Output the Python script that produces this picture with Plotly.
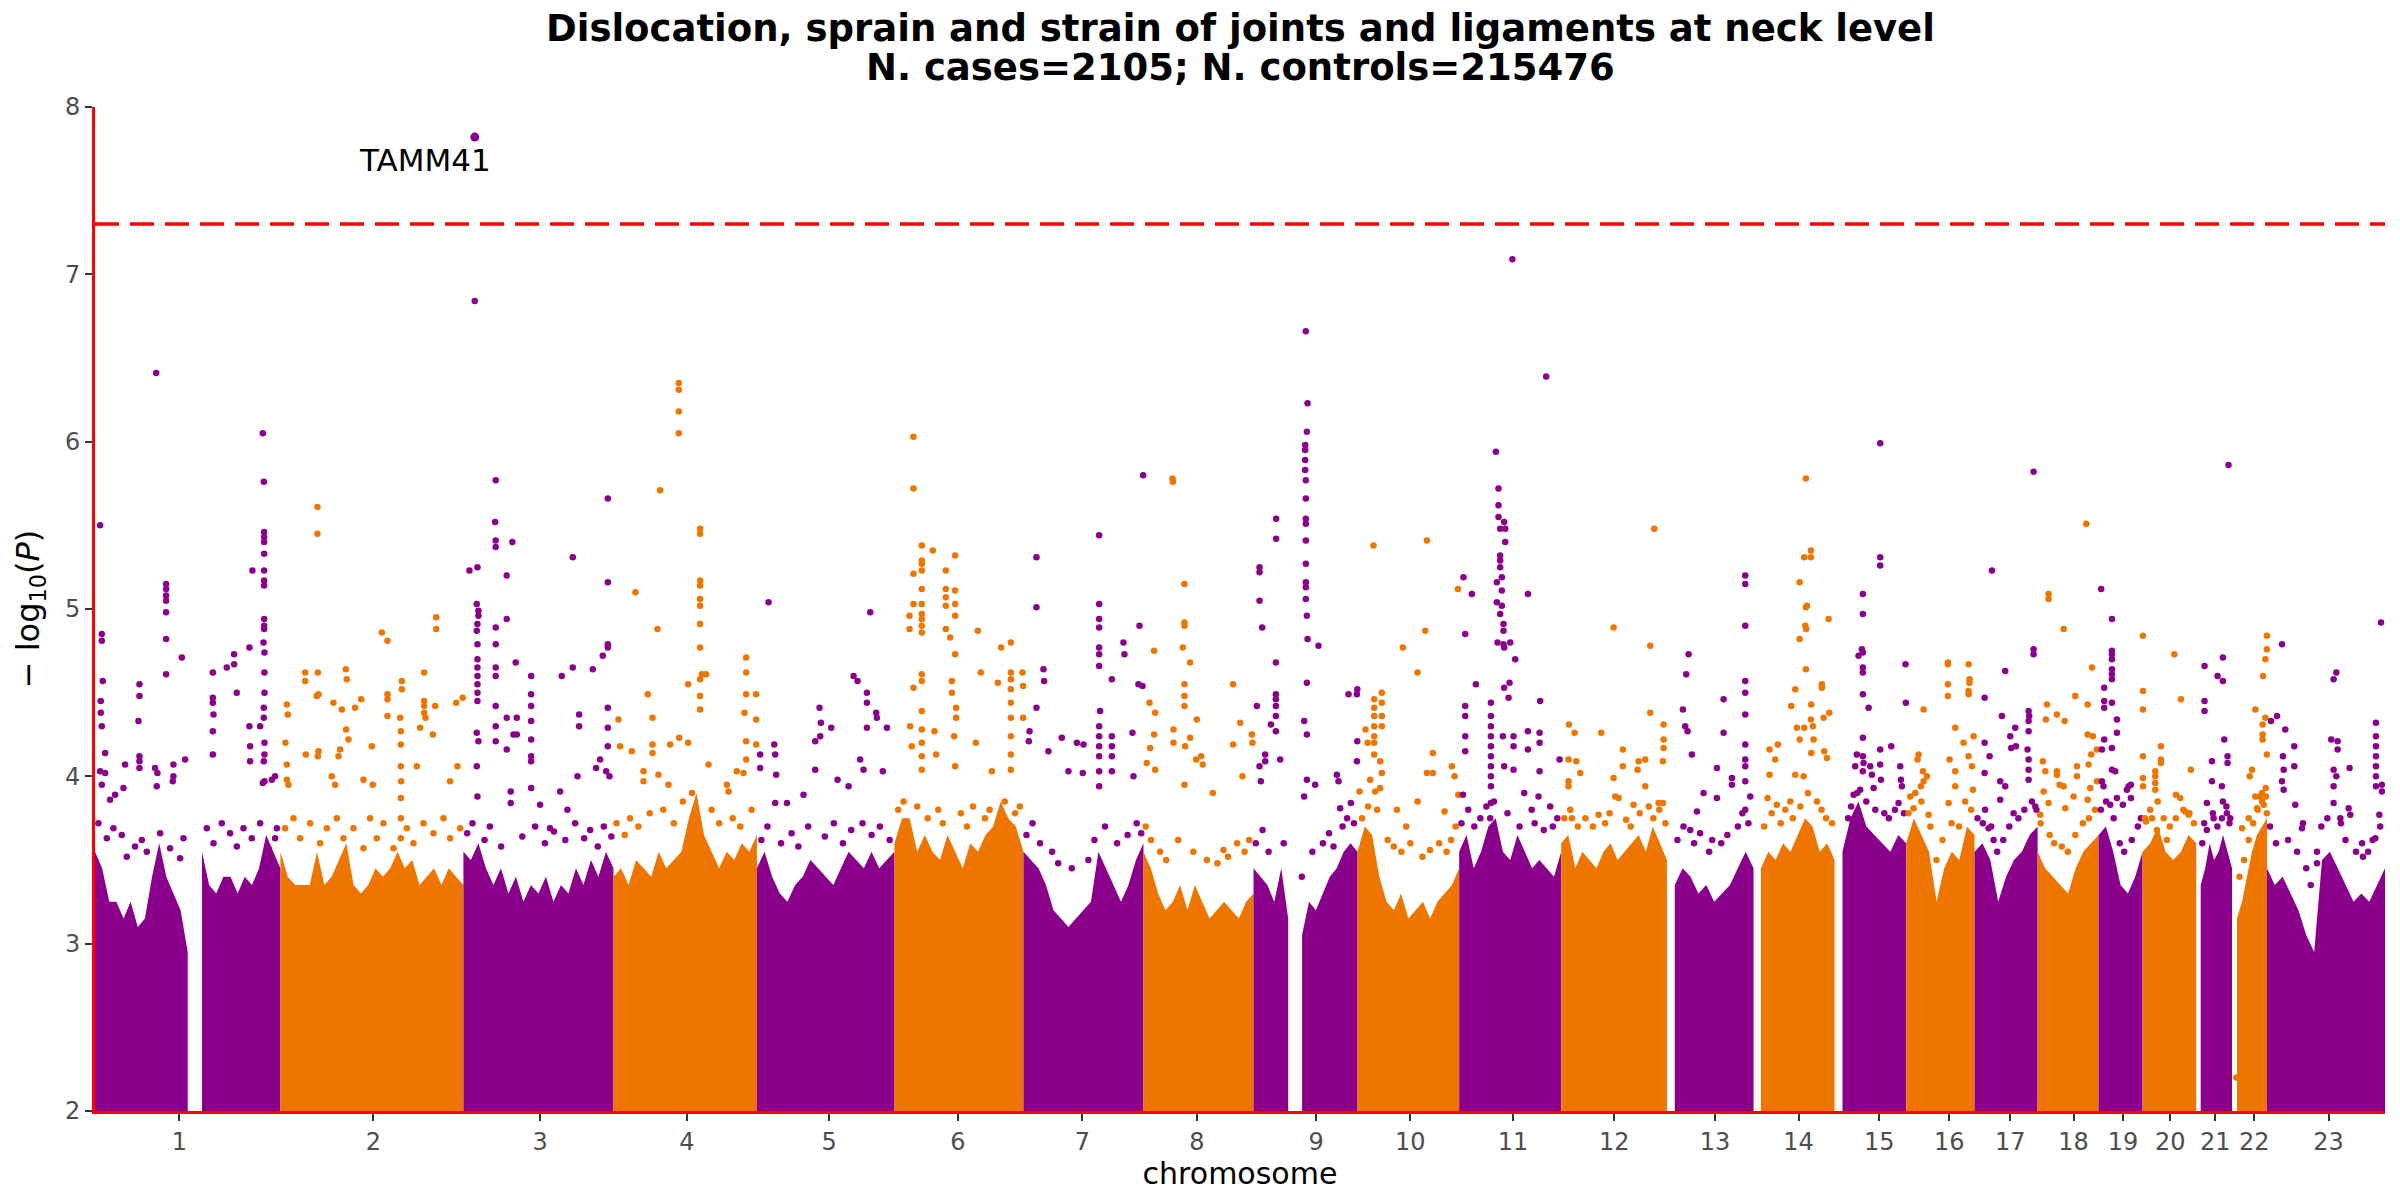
import numpy as np
import plotly.graph_objects as go

# ---------------- data ----------------
TITLE_LINE1 = "Dislocation, sprain and strain of joints and ligaments at neck level"
TITLE_LINE2 = "N. cases=2105; N. controls=215476"
X_TITLE = "chromosome"
CHROM_LABELS = [str(i) for i in range(1, 24)]
# cumulative start of each chromosome on the genome axis (Mb)
CHROM_START = [0.0, 245.7, 488.1, 686.9, 876.9, 1059.2, 1230.1, 1389.1, 1534.9, 1672.7,
               1807.4, 1942.6, 2082.6, 2197.4, 2304.7, 2399.7, 2490.2, 2573.7, 2654.5,
               2712.8, 2783.9, 2831.3, 2877.6]
GENOME_END = 3034.0
TICK_POS = [111.8, 368.9, 589.8, 784.1, 972.7, 1143.2, 1308.3, 1459.9, 1617.9, 1742.5,
            1878.6, 2012.8, 2146.2, 2257.0, 2363.9, 2456.6, 2537.5, 2621.4, 2686.8,
            2749.5, 2809.1, 2860.8, 2959.3]
Y_TICKS = [2, 3, 4, 5, 6, 7, 8]
SIG_LEVEL = 7.30103          # -log10(5e-8)
LEAD_CHR = 3
LEAD_POS = 15.0              # Mb within chromosome
LEAD_VAL = 7.82
LEAD_GENE = "TAMM41"

# top of the dense mass of SNPs, sampled evenly along each chromosome (None = no SNPs)
BAND_1 = [3.55, 3.45, 3.25, 3.25, 3.15, 3.25, 3.1, 3.15, 3.4, 3.6, 3.4, 3.3, 3.2, 2.95, None,
          3.55, 3.35, 3.3, 3.4, 3.4, 3.3, 3.4, 3.35, 3.45, 3.65, 3.55, 3.45]
BAND_2 = [3.55, 3.4, 3.35, 3.35, 3.35, 3.55, 3.35, 3.4, 3.5, 3.6, 3.35, 3.3, 3.35, 3.45, 3.4,
          3.45, 3.55, 3.45, 3.5, 3.35, 3.4, 3.45, 3.35, 3.45, 3.4, 3.35]
BAND_3 = [3.55, 3.5, 3.6, 3.45, 3.35, 3.45, 3.3, 3.4, 3.25, 3.35, 3.3, 3.4, 3.25, 3.35, 3.3,
          3.45, 3.35, 3.5, 3.4, 3.55, 3.45]
BAND_4 = [3.4, 3.45, 3.35, 3.5, 3.45, 3.4, 3.55, 3.45, 3.5, 3.55, 3.75, 3.9, 3.65, 3.55, 3.45,
          3.55, 3.5, 3.6, 3.55, 3.65]
BAND_5 = [3.45, 3.55, 3.4, 3.3, 3.25, 3.35, 3.4, 3.5, 3.45, 3.4, 3.35, 3.45, 3.55, 3.5, 3.45,
          3.55, 3.45, 3.5, 3.55]
BAND_6 = [3.6, 3.75, 3.75, 3.55, 3.65, 3.55, 3.5, 3.65, 3.55, 3.45, 3.6, 3.55, 3.65, 3.7, 3.85,
          3.75, 3.7, 3.55]
BAND_7 = [3.55, 3.5, 3.45, 3.35, 3.2, 3.15, 3.1, 3.15, 3.2, 3.25, 3.55, 3.45, 3.35, 3.25, 3.35,
          3.5, 3.6]
BAND_8 = [3.55, 3.45, 3.3, 3.2, 3.25, 3.35, 3.2, 3.35, 3.25, 3.15, 3.2, 3.25, 3.2, 3.15, 3.25, 3.3]
BAND_9 = [3.45, 3.4, 3.35, 3.25, 3.45, 3.15, None, 3.05, 3.25, 3.2, 3.3, 3.4, 3.45, 3.55, 3.6, 3.55]
BAND_10 = [3.55, 3.7, 3.65, 3.4, 3.25, 3.2, 3.3, 3.15, 3.2, 3.25, 3.15, 3.25, 3.3, 3.35, 3.45]
BAND_11 = [3.55, 3.65, 3.45, 3.55, 3.7, 3.75, 3.55, 3.5, 3.65, 3.55, 3.45, 3.5, 3.45, 3.4, 3.55]
BAND_12 = [3.6, 3.65, 3.45, 3.55, 3.5, 3.45, 3.55, 3.6, 3.5, 3.55, 3.6, 3.65, 3.55, 3.7, 3.6, 3.5]
BAND_13 = [None, 3.35, 3.45, 3.4, 3.3, 3.35, 3.25, 3.3, 3.35, 3.45, 3.55, 3.45]
BAND_14 = [None, 3.45, 3.55, 3.5, 3.6, 3.55, 3.65, 3.75, 3.7, 3.55, 3.6, 3.5]
BAND_15 = [None, 3.55, 3.75, 3.85, 3.7, 3.65, 3.6, 3.55, 3.65, 3.6]
BAND_16 = [3.6, 3.75, 3.65, 3.55, 3.25, 3.45, 3.55, 3.5, 3.7, 3.65]
BAND_17 = [3.55, 3.6, 3.5, 3.25, 3.4, 3.5, 3.55, 3.65, 3.7]
BAND_18 = [3.55, 3.45, 3.4, 3.35, 3.3, 3.45, 3.55, 3.6, 3.65]
BAND_19 = [3.65, 3.7, 3.55, 3.35, 3.3, 3.4, 3.55]
BAND_20 = [3.55, 3.6, 3.7, 3.55, 3.5, 3.55, 3.65, 3.6]
BAND_21 = [None, 3.35, 3.45, 3.6, 3.5, 3.55, 3.65, 3.55, 3.45]
BAND_22 = [None, 3.15, 3.25, 3.4, 3.55, 3.65, 3.7, 3.75]
BAND_23 = [3.45, 3.35, 3.4, 3.3, 3.2, 3.05, 2.95, 3.5, 3.55, 3.45, 3.35, 3.25, 3.3, 3.25, 3.35, 3.45]

# individual SNPs above the dense mass: (position in chromosome, Mb ; -log10 P)
DOTS_1 = [(6.8,5.50),(9.0,4.85),(9.0,4.81),(10.3,4.57),(7.6,4.45),(7.6,4.38),(9.0,4.30),(13.4,4.14),(6.8,4.03),(13.4,4.02),(9.0,3.95),
          (58.9,4.55),(58.9,4.48),(57.6,4.33),(58.9,4.12),(58.9,4.09),(58.9,4.05),(81.1,6.41),
          (94.2,5.15),(94.2,5.12),(94.2,5.08),(94.2,5.05),(94.2,4.98),(94.2,4.82),(94.2,4.61),
          (115.0,4.71),(119.4,4.10),(103.9,4.07),(103.9,4.00),(103.0,3.97),
          (79.6,4.05),(82.7,4.02),(81.8,3.94),(37.7,3.93),(26.6,3.89),(20.0,3.86),(39.9,4.07),
          (156.1,4.62),(156.1,4.47),(156.1,4.44),(157.0,4.37),(156.1,4.27),(156.1,4.13),
          (174.6,4.65),(184.3,4.73),(184.3,4.67),(187.8,4.50),(204.6,4.77),(208.6,5.23),(204.6,4.30),(205.5,4.18),(205.5,4.09),
          (222.3,6.05),(223.6,5.76),(224.1,5.46),(224.1,5.43),(224.1,5.40),(224.1,5.33),(224.1,5.23),(224.1,5.17),(224.1,5.14),
          (224.1,4.94),(224.1,4.90),(224.1,4.88),(223.2,4.80),(224.5,4.74),(224.5,4.62),(224.5,4.50),(223.6,4.41),(223.6,4.35),
          (224.5,4.20),(224.5,4.13),(223.6,4.09),(224.5,3.97),(218.8,4.30),(222.3,3.96),(234.2,3.98),(238.6,4.00),(240.9,3.69)]
DOTS_2 = [(49.0,5.61),(49.0,5.45),(32.7,4.62),(32.7,4.57),(49.5,4.62),(48.1,4.48),(50.4,4.49),(8.4,4.43),(9.7,4.37),(6.6,4.20),
          (8.4,4.07),(8.4,3.98),(10.6,3.95),(33.6,4.13),(49.5,4.12),(50.4,4.15),(70.2,4.44),(81.3,4.40),(86.6,4.64),(87.9,4.58),
          (98.9,4.41),(106.9,4.46),(87.0,4.28),(90.1,4.22),(79.1,4.16),(76.9,4.12),(72.4,3.95),(68.0,4.00),(134.3,4.86),(141.8,4.81),
          (141.8,4.49),(141.8,4.46),(141.8,4.36),(160.8,4.57),(160.8,4.52),(158.6,4.35),(159.5,4.27),(159.5,4.19),(159.5,4.06),
          (159.9,3.97),(159.5,3.87),(159.5,3.75),(159.5,3.63),(206.3,4.95),(206.3,4.88),(190.4,4.62),(190.4,4.45),(190.4,4.42),
          (190.4,4.38),(192.1,4.35),(232.8,4.44),(241.5,4.47),(185.1,4.29),(180.7,4.06),(201.9,4.25),(205.0,4.42),(121.0,4.18),
          (122.3,3.95),(110.0,3.98),(224.8,3.97),(234.5,4.06)]
DOTS_3 = [(15.0,6.84),(18.6,5.25),(8.0,5.23),(17.7,5.03),(19.9,4.99),(19.9,4.96),(18.6,4.91),(17.7,4.87),(18.6,4.79),(18.6,4.70),
          (18.6,4.65),(18.6,4.60),(18.6,4.55),(18.6,4.50),(18.6,4.45),(17.7,4.26),(19.9,4.21),(17.7,4.06),(18.6,3.88),
          (42.8,5.77),(42.0,5.52),(42.8,5.41),(42.8,5.37),(64.9,5.40),(57.4,5.20),(57.4,4.94),(42.8,4.89),(42.8,4.79),(42.8,4.65),
          (42.8,4.60),(42.8,4.42),(42.8,4.30),(42.8,4.21),(69.3,4.68),(57.4,4.35),(70.7,4.35),(57.4,4.16),(66.3,4.25),(70.7,4.25),
          (89.7,4.60),(89.7,4.49),(89.7,4.42),(89.7,4.33),(89.7,4.22),(89.7,4.12),(89.7,4.09),(89.7,3.93),
          (144.9,5.31),(144.9,4.65),(130.3,4.60),(153.3,4.37),(153.3,4.30),(151.1,4.00),
          (171.4,4.64),(184.6,4.72),(191.3,5.66),(191.3,5.16),(191.3,4.79),(191.3,4.77),(191.3,4.41),(191.3,4.29),(191.3,4.18),
          (175.8,4.05),(181.1,4.10),(189.1,4.03),(193.5,4.00),(62.7,3.91),(62.7,3.84),(128.1,3.91),(137.8,3.80),(114.8,3.69),(101.6,3.83)]
DOTS_4 = [(86.6,6.35),(86.6,6.31),(86.6,6.18),(86.6,6.05),(61.8,5.71),(114.8,5.48),(114.8,5.45),(114.8,5.17),(114.8,5.14),(114.8,5.06),
          (114.8,5.02),(114.8,4.91),(114.8,4.77),(114.8,4.58),(114.8,4.48),(114.8,4.40),(117.1,4.61),(122.8,4.61),(29.2,5.10),(58.3,4.88),
          (45.5,4.49),(51.7,4.35),(6.6,4.34),(98.9,4.55),(98.9,4.20),(87.0,4.23),(75.1,4.19),(51.7,4.19),(51.7,4.14),(175.8,4.71),
          (175.8,4.62),(175.8,4.49),(173.6,4.38),(175.8,4.21),(189.0,4.49),(189.0,4.34),(189.0,4.19),(175.8,4.10),(172.3,4.02),
          (8.8,4.18),(24.3,4.15),(39.8,4.03),(39.8,3.97),(59.6,4.01),(72.9,3.95),(125.9,4.07),(150.2,3.95),(152.4,3.91),(163.4,4.03)]
DOTS_5 = [(15.5,5.04),(150.2,4.98),(128.1,4.60),(133.4,4.57),(145.8,4.50),(145.8,4.44),(145.8,4.29),(158.1,4.38),(159.0,4.35),
          (172.3,4.29),(83.0,4.41),(84.8,4.32),(98.5,4.29),(77.3,4.21),(83.9,4.24),(23.0,4.19),(24.3,4.13),(25.6,4.01),(4.4,4.13),
          (4.4,4.05),(136.9,4.10),(141.3,4.04),(166.9,4.03),(121.5,3.94),(106.9,3.98),(77.3,4.04),(61.8,3.89),(39.8,3.84),(24.3,3.84)]
DOTS_6 = [(25.2,6.03),(25.2,5.72),(36.2,5.38),(36.2,5.29),(36.2,5.27),(36.2,5.23),(36.2,5.12),(36.2,5.03),(36.2,4.97),(36.2,4.94),
          (36.2,4.90),(36.2,4.86),(36.2,4.61),(36.2,4.57),(36.2,4.39),(36.2,4.28),(36.2,4.20),(36.2,4.12),(36.2,4.04),(25.2,5.21),
          (19.9,4.96),(19.9,4.88),(25.2,5.03),(25.2,4.53),(20.8,4.30),(23.0,4.18),(50.8,5.35),(68.0,5.23),(68.0,5.12),(68.0,5.07),
          (68.0,5.02),(68.0,4.88),(80.4,5.32),(80.4,5.11),(80.4,5.03),(80.4,4.96),(80.4,4.73),(73.8,4.83),(76.0,4.57),(76.0,4.50),
          (81.7,4.41),(81.7,4.35),(79.1,4.24),(80.4,4.06),(110.4,4.87),(114.4,4.62),(53.0,4.27),(55.2,4.13),(107.8,4.20),(141.3,4.77),
          (154.2,4.80),(136.9,4.56),(154.2,4.62),(154.2,4.58),(154.2,4.52),(154.2,4.44),(154.2,4.35),(154.2,4.24),(154.2,4.13),
          (154.2,4.04),(169.6,4.62),(170.5,4.54),(170.5,4.35),(129.0,4.03)]
DOTS_7 = [(17.2,5.31),(17.2,5.01),(17.2,4.41),(8.0,4.27),(7.1,4.21),(26.5,4.64),(27.4,4.57),(100.3,5.44),(100.3,5.03),(100.3,4.94),
          (100.3,4.89),(100.3,4.77),(100.3,4.73),(100.3,4.66),(101.6,4.39),(100.3,4.30),(100.3,4.24),(100.3,4.18),(100.3,4.12),
          (100.3,4.03),(100.3,3.94),(117.1,4.58),(117.1,4.24),(117.1,4.18),(117.1,4.12),(117.1,4.03),(132.5,4.80),(133.8,4.73),
          (153.7,4.90),(152.4,4.55),(157.7,4.54),(144.4,4.26),(145.8,4.00),(50.8,4.23),(70.7,4.20),(79.5,4.19),(78.6,4.02),
          (59.6,4.03),(33.1,4.15),(158.6,5.80)]
DOTS_8 = [(38.4,5.78),(39.0,5.76),(54.3,5.15),(54.3,4.92),(54.3,4.90),(52.1,4.77),(61.8,4.68),(54.3,4.55),(54.3,4.48),(54.3,4.42),
          (70.7,4.34),(55.2,4.18),(61.8,4.23),(54.3,3.95),(14.1,4.75),(8.0,4.44),(15.5,4.38),(14.1,4.25),(4.4,4.08),(15.5,4.04),
          (8.8,4.17),(118.8,4.55),(128.1,4.32),(118.8,4.19),(131.2,4.00),(143.6,4.25),(144.4,4.20),(39.8,4.28),(39.8,4.20),
          (69.8,4.10),(76.4,4.12),(78.6,4.07),(91.9,3.90)]
DOTS_9 = [(30.0,5.54),(30.0,5.42),(8.0,5.25),(8.0,5.22),(8.0,5.05),(11.5,4.89),(29.6,4.68),(29.6,4.49),(29.6,4.46),(29.6,4.42),
          (29.6,4.36),(29.6,4.27),(23.0,4.31),(4.4,4.42),(15.5,4.13),(15.5,4.09),(8.0,4.06),(9.7,3.97),(35.3,4.10),
          (69.3,6.66),(71.6,6.23),(70.7,6.06),(68.5,5.98),(68.5,5.95),(68.5,5.89),(68.5,5.83),(69.3,5.77),(69.3,5.66),(69.3,5.54),
          (69.3,5.51),(69.3,5.41),(69.3,5.27),(69.3,5.16),(69.3,5.13),(69.3,5.06),(70.7,4.96),(71.6,4.82),(70.7,4.56),(67.1,4.33),
          (70.7,4.25),(70.7,3.98),(67.1,3.88),(86.1,4.78),(81.7,3.95),(110.4,4.01),(112.6,3.97),(125.9,4.49),(136.9,4.49),
          (137.5,4.52),(137.5,4.21),(137.0,4.09),(114.8,3.81),(129.0,3.84)]
DOTS_10 = [(21.2,5.38),(91.9,5.41),(133.0,5.12),(89.7,4.87),(60.1,4.77),(79.5,4.62),(22.1,4.46),(22.1,4.41),(22.1,4.36),(22.1,4.30),
           (22.1,4.24),(22.1,4.20),(22.1,4.13),(32.2,4.50),(32.2,4.44),(32.2,4.36),(32.2,4.30),(30.0,4.09),(32.2,4.02),(30.0,3.93),
           (10.6,4.28),(13.3,4.20),(2.7,3.91),(16.8,3.98),(23.4,3.91),(99.8,4.14),(91.9,4.02),(99.8,4.02),(125.0,4.06),(128.5,4.00),
           (133.5,3.89),(79.5,3.85),(52.1,3.80),(64.5,3.70),(115.3,3.79)]
DOTS_11 = [(70.5,7.09),(115.3,6.39),(48.6,5.94),(52.1,5.72),(52.1,5.62),(52.1,5.55),(59.6,5.52),(61.0,5.48),(54.3,5.48),(61.0,5.40),
           (54.3,5.32),(54.3,5.29),(54.3,5.25),(56.5,5.19),(49.9,5.16),(56.5,5.11),(49.9,5.04),(56.5,5.02),(54.3,4.97),(58.7,4.91),
           (58.7,4.87),(50.8,4.80),(58.7,4.79),(67.6,4.80),(59.6,4.77),(74.2,4.70),(66.7,4.56),(65.4,4.47),(59.6,4.53),(57.9,4.24),
           (72.0,4.24),(72.0,4.18),(59.6,4.06),(72.0,4.04),(5.7,5.19),(8.0,4.85),(16.8,5.09),(22.1,4.55),(8.0,4.42),(8.0,4.36),
           (8.0,4.24),(8.0,4.15),(4.9,3.89),(42.0,4.44),(42.0,4.36),(42.0,4.30),(42.0,4.24),(42.0,4.18),(42.0,4.12),(42.0,4.06),
           (42.0,4.00),(42.0,3.94),(42.0,3.84),(41.1,3.75),(91.0,5.09),(91.0,4.27),(91.0,4.16),(107.3,4.45),(106.5,4.26),
           (106.5,4.20),(106.5,4.03),(133.0,4.10),(120.6,3.82),(105.1,3.88),(86.1,3.90)]
DOTS_12 = [(123.2,5.48),(69.3,4.89),(117.9,4.78),(117.9,4.38),(10.2,4.31),(17.7,4.26),(53.0,4.26),(81.7,4.16),(69.3,3.99),(81.7,4.06),
           (135.6,4.31),(135.6,4.22),(135.6,4.17),(134.7,4.09),(129.0,3.84),(134.7,3.84),(111.3,4.10),(102.5,4.09),(101.2,4.04),
           (111.3,3.94),(9.7,4.10),(19.9,4.09),(25.2,4.02),(9.7,3.97),(9.7,3.94),(71.6,3.88),(76.0,3.87),(14.1,3.75),(49.5,3.77),
           (95.8,3.83)]
DOTS_13 = [(28.7,4.73),(25.6,4.61),(21.2,4.40),(24.3,4.30),(27.4,4.27),(33.1,4.13),(75.1,4.46),(75.1,4.26),(66.2,4.05),(86.1,3.99),
           (86.1,3.95),(48.6,3.90),(66.2,3.87),(39.8,3.79),(30.9,3.68),(103.8,5.20),(103.8,5.15),(103.8,4.90),(103.8,4.57),
           (103.8,4.50),(103.8,4.37),(103.8,4.19),(103.8,4.10),(103.8,4.06),(103.8,3.97),(110.4,3.88),(103.8,3.80)]
DOTS_14 = [(69.3,5.78),(76.0,5.35),(67.1,5.31),(76.0,5.31),(61.0,5.16),(70.7,5.02),(69.3,5.01),(68.5,4.90),(69.8,4.88),(61.0,4.82),
           (69.3,4.64),(99.4,4.94),(90.5,4.55),(90.5,4.53),(55.2,4.52),(49.9,4.42),(76.4,4.43),(100.3,4.38),(92.8,4.35),(76.0,4.34),
           (78.6,4.30),(67.1,4.29),(57.4,4.29),(61.0,4.22),(79.5,4.22),(76.4,4.14),(21.2,4.16),(32.2,4.19),(21.2,4.01),(28.7,4.10),
           (93.6,4.15),(97.2,4.11),(55.2,4.01),(66.3,4.00),(48.6,3.85),(18.6,3.87),(30.9,3.83)]
DOTS_15 = [(60.5,5.99),(60.5,5.31),(60.5,5.26),(37.5,5.09),(37.5,4.97),(36.2,4.76),(37.5,4.74),(31.8,4.72),(37.5,4.65),(37.5,4.62),
           (37.5,4.49),(45.1,4.41),(37.5,4.23),(37.5,4.12),(38.4,4.08),(37.5,4.03),(34.0,3.92),(29.6,4.13),(27.4,4.06),(25.2,3.89),
           (94.0,4.67),(94.5,4.44),(75.1,4.18),(60.5,4.16),(60.5,4.07),(61.4,3.98),(47.3,4.06),(49.5,4.01),(51.7,3.93),(87.0,4.06),
           (87.9,3.98),(89.2,3.94),(84.8,3.84)]
DOTS_16 = [(55.2,4.68),(55.2,4.67),(55.2,4.55),(55.2,4.48),(82.6,4.67),(83.9,4.58),(83.9,4.56),(82.6,4.51),(82.6,4.49),(23.0,4.40),
           (16.3,4.13),(15.0,4.10),(22.1,4.03),(19.4,3.94),(27.4,4.00),(23.0,3.97),(64.9,4.29),(57.4,4.10),(64.9,4.03),(64.9,3.94),
           (76.0,4.20),(89.2,4.24),(88.3,3.92),(82.6,4.12),(87.0,4.06),(56.1,3.84),(5.3,3.88),(9.7,3.81),(29.6,3.77)]
DOTS_17 = [(78.2,5.82),(78.2,4.76),(78.2,4.73),(23.0,5.23),(40.6,4.63),(13.3,4.47),(36.2,4.36),(47.3,4.24),(53.9,4.29),(48.6,4.17),
           (54.8,4.18),(13.3,4.20),(19.9,4.12),(13.3,4.02),(71.6,4.39),(72.4,4.36),(71.6,4.33),(71.6,4.27),(70.2,4.16),(71.6,4.10),
           (71.6,4.04),(71.6,3.98),(34.0,3.97),(40.6,3.94),(34.0,3.86),(80.4,3.82),(51.7,3.78),(25.2,3.62),(11.0,3.72),(18.6,3.69)]
DOTS_18 = [(64.5,5.51),(14.6,5.09),(14.6,5.06),(34.5,4.88),(72.0,4.65),(49.9,4.48),(66.3,4.43),(12.4,4.43),(11.0,4.34),(25.6,4.37),
           (35.8,4.33),(66.3,4.25),(73.3,4.24),(52.1,4.06),(52.1,4.00),(71.1,4.13),(67.6,4.07),(78.6,4.16),(7.1,4.09),(10.2,4.03),
           (8.0,3.91),(25.6,4.03),(25.6,4.01),(29.2,3.95),(34.5,3.94),(69.8,3.93),(78.6,3.97),(66.3,3.86),(47.7,3.88),(14.6,3.84),
           (3.5,3.77),(36.7,3.81)]
DOTS_19 = [(3.5,5.12),(17.7,4.94),(17.7,4.75),(17.7,4.73),(17.7,4.70),(17.7,4.64),(17.7,4.61),(17.7,4.58),(17.7,4.44),(7.5,4.53),
           (7.5,4.45),(7.5,4.41),(24.3,4.34),(24.3,4.26),(7.5,4.22),(17.7,4.17),(4.4,4.16),(17.7,4.04),(22.1,4.03),(4.4,3.97),
           (6.6,3.94),(39.8,3.94),(42.8,3.95),(37.5,3.92),(24.3,3.87),(32.2,3.83),(42.8,3.87),(15.5,3.83)]
DOTS_20 = [(0.5,4.84),(0.5,4.51),(0.5,4.40),(0.5,4.12),(0.5,3.99),(0.5,3.94),(42.0,4.73),(50.8,4.46),(24.3,4.18),(24.3,4.10),
           (24.3,4.08),(16.8,4.03),(16.8,4.00),(16.8,3.96),(16.8,3.92),(64.0,4.04),(44.2,3.89),(49.9,3.87),(4.4,3.73),(12.4,3.75),
           (19.0,3.68),(56.5,3.79),(61.0,3.77),(32.2,3.62)]
DOTS_21 = [(42.8,5.86),(11.0,4.66),(11.0,4.45),(11.0,4.39),(28.3,4.60),(35.3,4.71),(35.3,4.57),(37.1,4.22),(41.5,4.12),(41.5,4.08),
           (20.8,4.09),(20.8,3.97),(34.0,3.94),(35.3,3.85),(14.1,3.84),(10.6,3.72),(23.0,3.75),(40.6,3.78),(45.1,3.75)]
DOTS_22 = [(46.2,4.84),(46.2,4.76),(44.2,4.70),(41.1,4.60),(30.9,4.40),(40.6,4.31),(40.6,4.25),(40.6,4.22),(46.2,4.13),(44.2,4.35),
           (26.5,4.04),(23.4,4.00),(30.9,3.88),(36.7,3.88),(39.8,3.90),(44.6,3.93),(13.3,3.69),(22.1,3.75),(33.1,3.81),(42.0,3.83),
           (46.2,3.78),(5.7,2.20)]
DOTS_23 = [(151.1,4.92),(19.9,4.79),(13.3,4.36),(5.3,4.33),(24.3,4.28),(21.2,4.12),(36.2,4.18),(36.2,4.06),(22.1,4.04),(19.9,3.97),
           (22.1,3.92),(88.3,4.58),(91.9,4.62),(85.2,4.22),(93.6,4.21),(93.6,4.16),(88.3,4.04),(88.3,3.94),(91.9,4.00),(109.5,4.05),
           (88.3,3.84),(144.4,4.32),(144.4,4.24),(144.4,4.18),(144.4,4.12),(144.4,4.06),(144.4,4.00),(144.4,3.94),(152.4,3.95),
           (152.4,3.91),(148.9,3.77),(47.7,3.72),(46.4,3.69),(37.5,3.83),(108.2,3.81),(110.4,3.77),(97.2,3.75),(66.3,3.55),
           (66.3,3.48),(127.2,3.52),(143.6,3.63)]

# scattered SNPs just above the dense mass (3.4 - 3.9)
MID_1 = [(4.5,3.72),(15.6,3.63),(24.4,3.69),(35.5,3.65),(42.1,3.52),(53.1,3.58),(62.0,3.62),(68.6,3.55),(86.3,3.66),(99.5,3.57),
         (112.8,3.51),(117.2,3.63),(148.1,3.69),(157.0,3.60),(168.0,3.72),(179.0,3.66),(187.9,3.58),(196.7,3.69),(207.7,3.63),
         (218.8,3.72),(229.8,3.57),(238.6,3.63)]
MID_2 = [(6.2,3.69),(17.2,3.75),(26.1,3.63),(39.3,3.72),(52.6,3.60),(61.4,3.69),(74.7,3.75),(83.5,3.63),(96.7,3.69),(110.0,3.57),
         (118.8,3.75),(127.6,3.63),(136.5,3.72),(149.7,3.57),(167.4,3.69),(176.2,3.60),(189.5,3.72),(202.7,3.66),(216.0,3.75),
         (224.8,3.63),(238.0,3.69)]
MID_3 = [(5,3.66),(12,3.72),(28,3.62),(35,3.70),(50,3.58),(78,3.64),(95,3.70),(108,3.60),(120,3.67),(135,3.62),(148,3.72),
         (160,3.63),(168,3.68),(178,3.58),(186,3.70),(196,3.64)]
MID_4 = [(4,3.72),(15,3.65),(22,3.75),(33,3.70),(48,3.78),(66,3.80),(80,3.72),(92,3.85),(104,3.90),(130,3.80),(140,3.72),
         (158,3.75),(168,3.70),(183,3.80)]
MID_5 = [(6,3.62),(14,3.70),(32,3.60),(46,3.66),(55,3.58),(68,3.70),(90,3.64),(102,3.72),(114,3.60),(125,3.68),(140,3.72),
         (152,3.65),(163,3.70),(176,3.62)]
MID_6 = [(5,3.80),(12,3.85),(30,3.82),(44,3.75),(58,3.80),(64,3.72),(88,3.78),(96,3.70),(104,3.82),(120,3.75),(126,3.80),
         (146,3.85),(160,3.78),(166,3.82)]
MID_7 = [(4,3.65),(12,3.72),(22,3.60),(38,3.55),(46,3.48),(64,3.45),(86,3.50),(94,3.62),(108,3.70),(124,3.60),(138,3.65),
         (150,3.72),(156,3.66)]
MID_8 = [(3,3.70),(10,3.62),(22,3.55),(30,3.50),(46,3.62),(66,3.55),(84,3.50),(98,3.48),(106,3.56),(112,3.52),(124,3.60),
         (134,3.55),(140,3.62)]
MID_9 = [(3,3.60),(12,3.68),(20,3.55),(40,3.60),(64,3.40),(78,3.55),(92,3.60),(100,3.66),(106,3.58),(118,3.70),(124,3.75),
         (133,3.72)]
MID_10 = [(6,3.75),(14,3.82),(26,3.80),(40,3.62),(48,3.58),(58,3.55),(70,3.60),(86,3.52),(96,3.56),(108,3.60),(118,3.55),
          (124,3.62),(130,3.70)]
MID_11 = [(3,3.72),(12,3.80),(20,3.70),(28,3.75),(36,3.82),(46,3.85),(64,3.78),(80,3.70),(96,3.80),(100,3.72),(112,3.68),
          (124,3.70),(130,3.75)]
MID_12 = [(4,3.75),(12,3.80),(22,3.70),(32,3.75),(42,3.70),(58,3.72),(64,3.78),(86,3.74),(92,3.70),(104,3.78),(116,3.82),
          (122,3.75),(130,3.80),(138,3.72)]
MID_13 = [(14,3.62),(22,3.70),(36,3.60),(44,3.66),(56,3.55),(60,3.62),(72,3.60),(80,3.65),(94,3.70),(100,3.78),(108,3.72)]
MID_14 = [(14,3.70),(24,3.78),(36,3.72),(42,3.80),(52,3.75),(62,3.82),(72,3.90),(84,3.85),(90,3.80),(96,3.75),(104,3.72)]
MID_15 = [(18,3.75),(22,3.82),(30,3.90),(42,3.85),(54,3.80),(66,3.78),(72,3.75),(80,3.80),(92,3.78)]
MID_16 = [(3,3.78),(12,3.90),(20,3.85),(32,3.70),(40,3.50),(48,3.62),(60,3.72),(70,3.70),(78,3.85),(86,3.80)]
MID_17 = [(4,3.75),(14,3.80),(22,3.70),(30,3.55),(38,3.62),(46,3.70),(58,3.75),(66,3.80),(76,3.85),(82,3.80)]
MID_18 = [(4,3.72),(16,3.65),(22,3.60),(32,3.58),(40,3.55),(50,3.65),(60,3.72),(68,3.75),(76,3.80)]
MID_19 = [(3,3.80),(10,3.85),(20,3.75),(28,3.60),(34,3.55),(44,3.62),(52,3.70),(56,3.75)]
MID_20 = [(3,3.75),(10,3.80),(20,3.85),(28,3.75),(36,3.70),(44,3.75),(54,3.80),(62,3.78),(68,3.72)]
MID_21 = [(8,3.60),(14,3.68),(22,3.78),(28,3.70),(34,3.75),(40,3.82),(44,3.72)]
MID_22 = [(10,3.40),(16,3.50),(22,3.62),(28,3.72),(34,3.80),(40,3.85),(45,3.88)]
MID_23 = [(4,3.70),(12,3.60),(28,3.62),(40,3.55),(52,3.45),(58,3.35),(72,3.70),(80,3.75),(98,3.72),(104,3.62),(118,3.55),
          (126,3.60),(134,3.55),(140,3.62),(150,3.70)]

BANDS = [BAND_1, BAND_2, BAND_3, BAND_4, BAND_5, BAND_6, BAND_7, BAND_8, BAND_9, BAND_10, BAND_11, BAND_12,
         BAND_13, BAND_14, BAND_15, BAND_16, BAND_17, BAND_18, BAND_19, BAND_20, BAND_21, BAND_22, BAND_23]
DOTS = [DOTS_1, DOTS_2, DOTS_3, DOTS_4, DOTS_5, DOTS_6, DOTS_7, DOTS_8, DOTS_9, DOTS_10, DOTS_11, DOTS_12,
        DOTS_13, DOTS_14, DOTS_15, DOTS_16, DOTS_17, DOTS_18, DOTS_19, DOTS_20, DOTS_21, DOTS_22, DOTS_23]
MIDS = [MID_1, MID_2, MID_3, MID_4, MID_5, MID_6, MID_7, MID_8, MID_9, MID_10, MID_11, MID_12,
        MID_13, MID_14, MID_15, MID_16, MID_17, MID_18, MID_19, MID_20, MID_21, MID_22, MID_23]

# ---------------- styling ----------------
PURPLE = "#8B008B"
ORANGE = "#EE7600"
RED = "#FF0000"
FONT = "DejaVu Sans"

fig = go.Figure()
for i in range(23):
    col = PURPLE if i % 2 == 0 else ORANGE
    start = CHROM_START[i]
    end = CHROM_START[i + 1] if i < 22 else GENOME_END
    band = BANDS[i]
    xs = np.linspace(start, end, len(band))
    seg_x, seg_y = [], []
    segments = []
    for x, y in zip(xs, band):
        if y is None:
            if seg_x:
                segments.append((seg_x, seg_y))
            seg_x, seg_y = [], []
        else:
            seg_x.append(x)
            seg_y.append(y)
    if seg_x:
        segments.append((seg_x, seg_y))
    for sx, sy in segments:
        fig.add_trace(go.Scatter(x=sx, y=sy, mode="lines", fill="tozeroy",
                                 line=dict(width=0, color=col), fillcolor=col,
                                 hoverinfo="skip", showlegend=False))
    pts = DOTS[i] + MIDS[i]
    dx = [start + p for p, v in pts]
    dy = [v for p, v in pts]
    fig.add_trace(go.Scatter(x=dx, y=dy, mode="markers",
                             marker=dict(size=6.5, color=col, line=dict(width=0)),
                             hoverinfo="skip", showlegend=False))

lead_x = CHROM_START[LEAD_CHR - 1] + LEAD_POS
fig.add_trace(go.Scatter(x=[lead_x], y=[LEAD_VAL], mode="markers",
                         marker=dict(size=9, color=PURPLE, line=dict(width=0)),
                         hoverinfo="skip", showlegend=False))
fig.add_annotation(x=lead_x, y=LEAD_VAL, text=LEAD_GENE, showarrow=False,
                   xanchor="center", yanchor="middle", xshift=-50, yshift=-23,
                   font=dict(family=FONT, size=31, color="black"))

fig.add_shape(type="line", xref="paper", x0=0, x1=1, yref="y", y0=SIG_LEVEL, y1=SIG_LEVEL,
              line=dict(color=RED, width=3.5, dash="24px,11px"))

# two-line bold title, centred over the panel
fig.add_annotation(xref="paper", yref="paper", x=0.5, y=1.0777, xanchor="center", yanchor="middle",
                   text="<b>" + TITLE_LINE1 + "</b>", showarrow=False,
                   font=dict(family=FONT, size=37, color="black"))
fig.add_annotation(xref="paper", yref="paper", x=0.5, y=1.0398, xanchor="center", yanchor="middle",
                   text="<b>" + TITLE_LINE2 + "</b>", showarrow=False,
                   font=dict(family=FONT, size=37, color="black"))

axis_common = dict(showline=True, linecolor=RED, linewidth=3, ticks="outside", ticklen=7,
                   tickwidth=2, tickcolor="#333333", showgrid=False, zeroline=False,
                   tickfont=dict(family=FONT, size=24, color="#4D4D4D"))
fig.update_xaxes(range=[0, GENOME_END], tickmode="array", tickvals=TICK_POS,
                 ticktext=CHROM_LABELS,
                 title=dict(text=X_TITLE, font=dict(family=FONT, size=30, color="black"), standoff=8),
                 **axis_common)
fig.update_yaxes(range=[2, 8], tickmode="array", tickvals=Y_TICKS,
                 title=dict(text="\u2212 log<sub>10</sub>(<i>P</i>)",
                            font=dict(family=FONT, size=32, color="black"), standoff=16),
                 **axis_common)

# the page adds an 8 px body margin, so the figure is 8 px smaller and margins compensate
fig.update_layout(
    width=2392, height=1192,
    margin=dict(l=87, r=15, t=99, b=89),
    paper_bgcolor="white", plot_bgcolor="white",
    font=dict(family=FONT),
)

fig.write_html("out.html")
